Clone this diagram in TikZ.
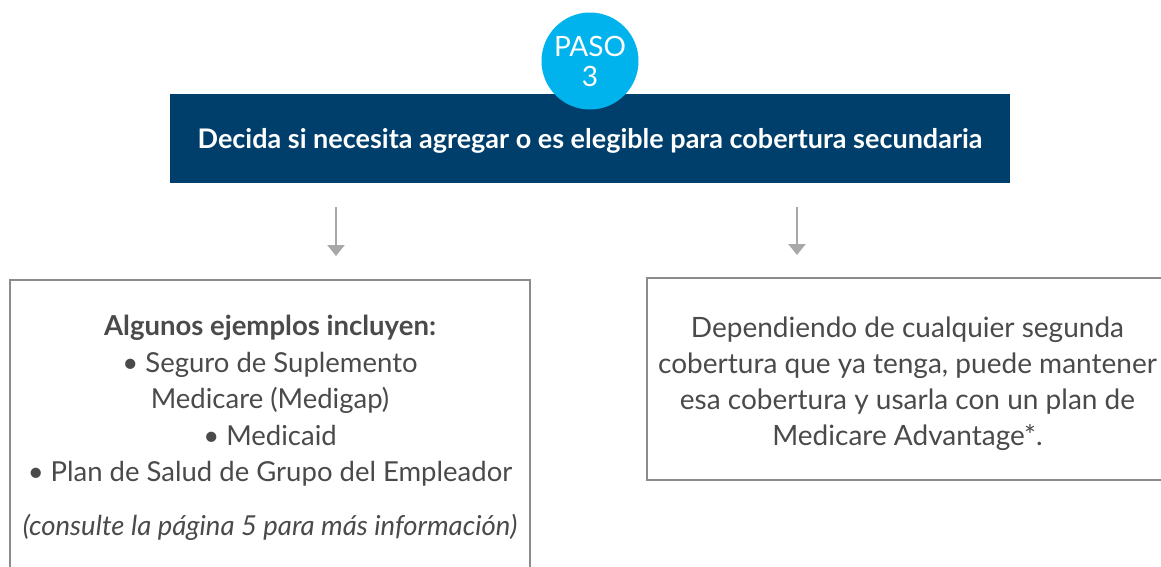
\documentclass[tikz,border=0pt]{standalone}
\usepackage{fontspec}
\setmainfont{Lato}
\usetikzlibrary{arrows.meta}
\definecolor{azul}{HTML}{003F6B}
\definecolor{celeste}{HTML}{00B3EC}
\definecolor{texto}{HTML}{4A4A4A}
\definecolor{borde}{HTML}{8C8C8C}
\definecolor{flechagris}{HTML}{A8A8A8}
\begin{document}
\begin{tikzpicture}[x=1pt,y=-1pt,
    caja/.style={draw=borde,line width=2pt,text=texto,align=center},
    flecha/.style={draw=flechagris,line width=2.2pt,
        -{Triangle[width=17pt,length=11pt]}}]
\useasboundingbox (0,0) rectangle (1161,566);
\clip (0,0) rectangle (1161,566);
\node[fill=azul,text=white,minimum width=840pt,minimum height=89pt,
    font=\fontsize{27}{30}\selectfont\bfseries] (titulo) at (590,138.5)
    {\raisebox{-2pt}[\height][\depth]{Decida si necesita agregar o es elegible para cobertura secundaria}};
\node[circle,fill=celeste,text=white,minimum size=97pt,inner sep=0pt,
    font=\fontsize{28}{30}\selectfont] (paso) at (590,61)
    {\raisebox{-4.5pt}[\height][\depth]{\begin{tabular}{@{}c@{}}PASO\\3\end{tabular}}};
\node[caja,minimum width=520pt,minimum height=296pt,
    font=\fontsize{27.5}{36.5}\selectfont] (ejemplos) at (270,428)
    {\textbf{Algunos ejemplos incluyen:}\\
     • Seguro de Suplemento\\
     Medicare (Medigap)\\
     • Medicaid\\
     • Plan de Salud de Grupo del Empleador\\[17pt]
     \textit{(consulte la página 5 para más información)}};
\node[caja,minimum width=521pt,minimum height=202pt,
    font=\fontsize{28}{36}\selectfont] (ventaja) at (907.5,379)
    {\raisebox{-5pt}[\height][\depth]{\begin{tabular}{@{}c@{}}
     Dependiendo de cualquier segunda\\
     cobertura que ya tenga, puede mantener\\
     esa cobertura y usarla con un plan de\\
     Medicare Advantage*.\end{tabular}}};
\draw[flecha] ([xshift=-254pt,yshift=-24pt]titulo.south) -- ([xshift=66pt,yshift=23pt]ejemplos.north);
\draw[flecha] ([xshift=207pt,yshift=-24pt]titulo.south) -- ([xshift=-110.5pt,yshift=22pt]ventaja.north);
\end{tikzpicture}
\end{document}
